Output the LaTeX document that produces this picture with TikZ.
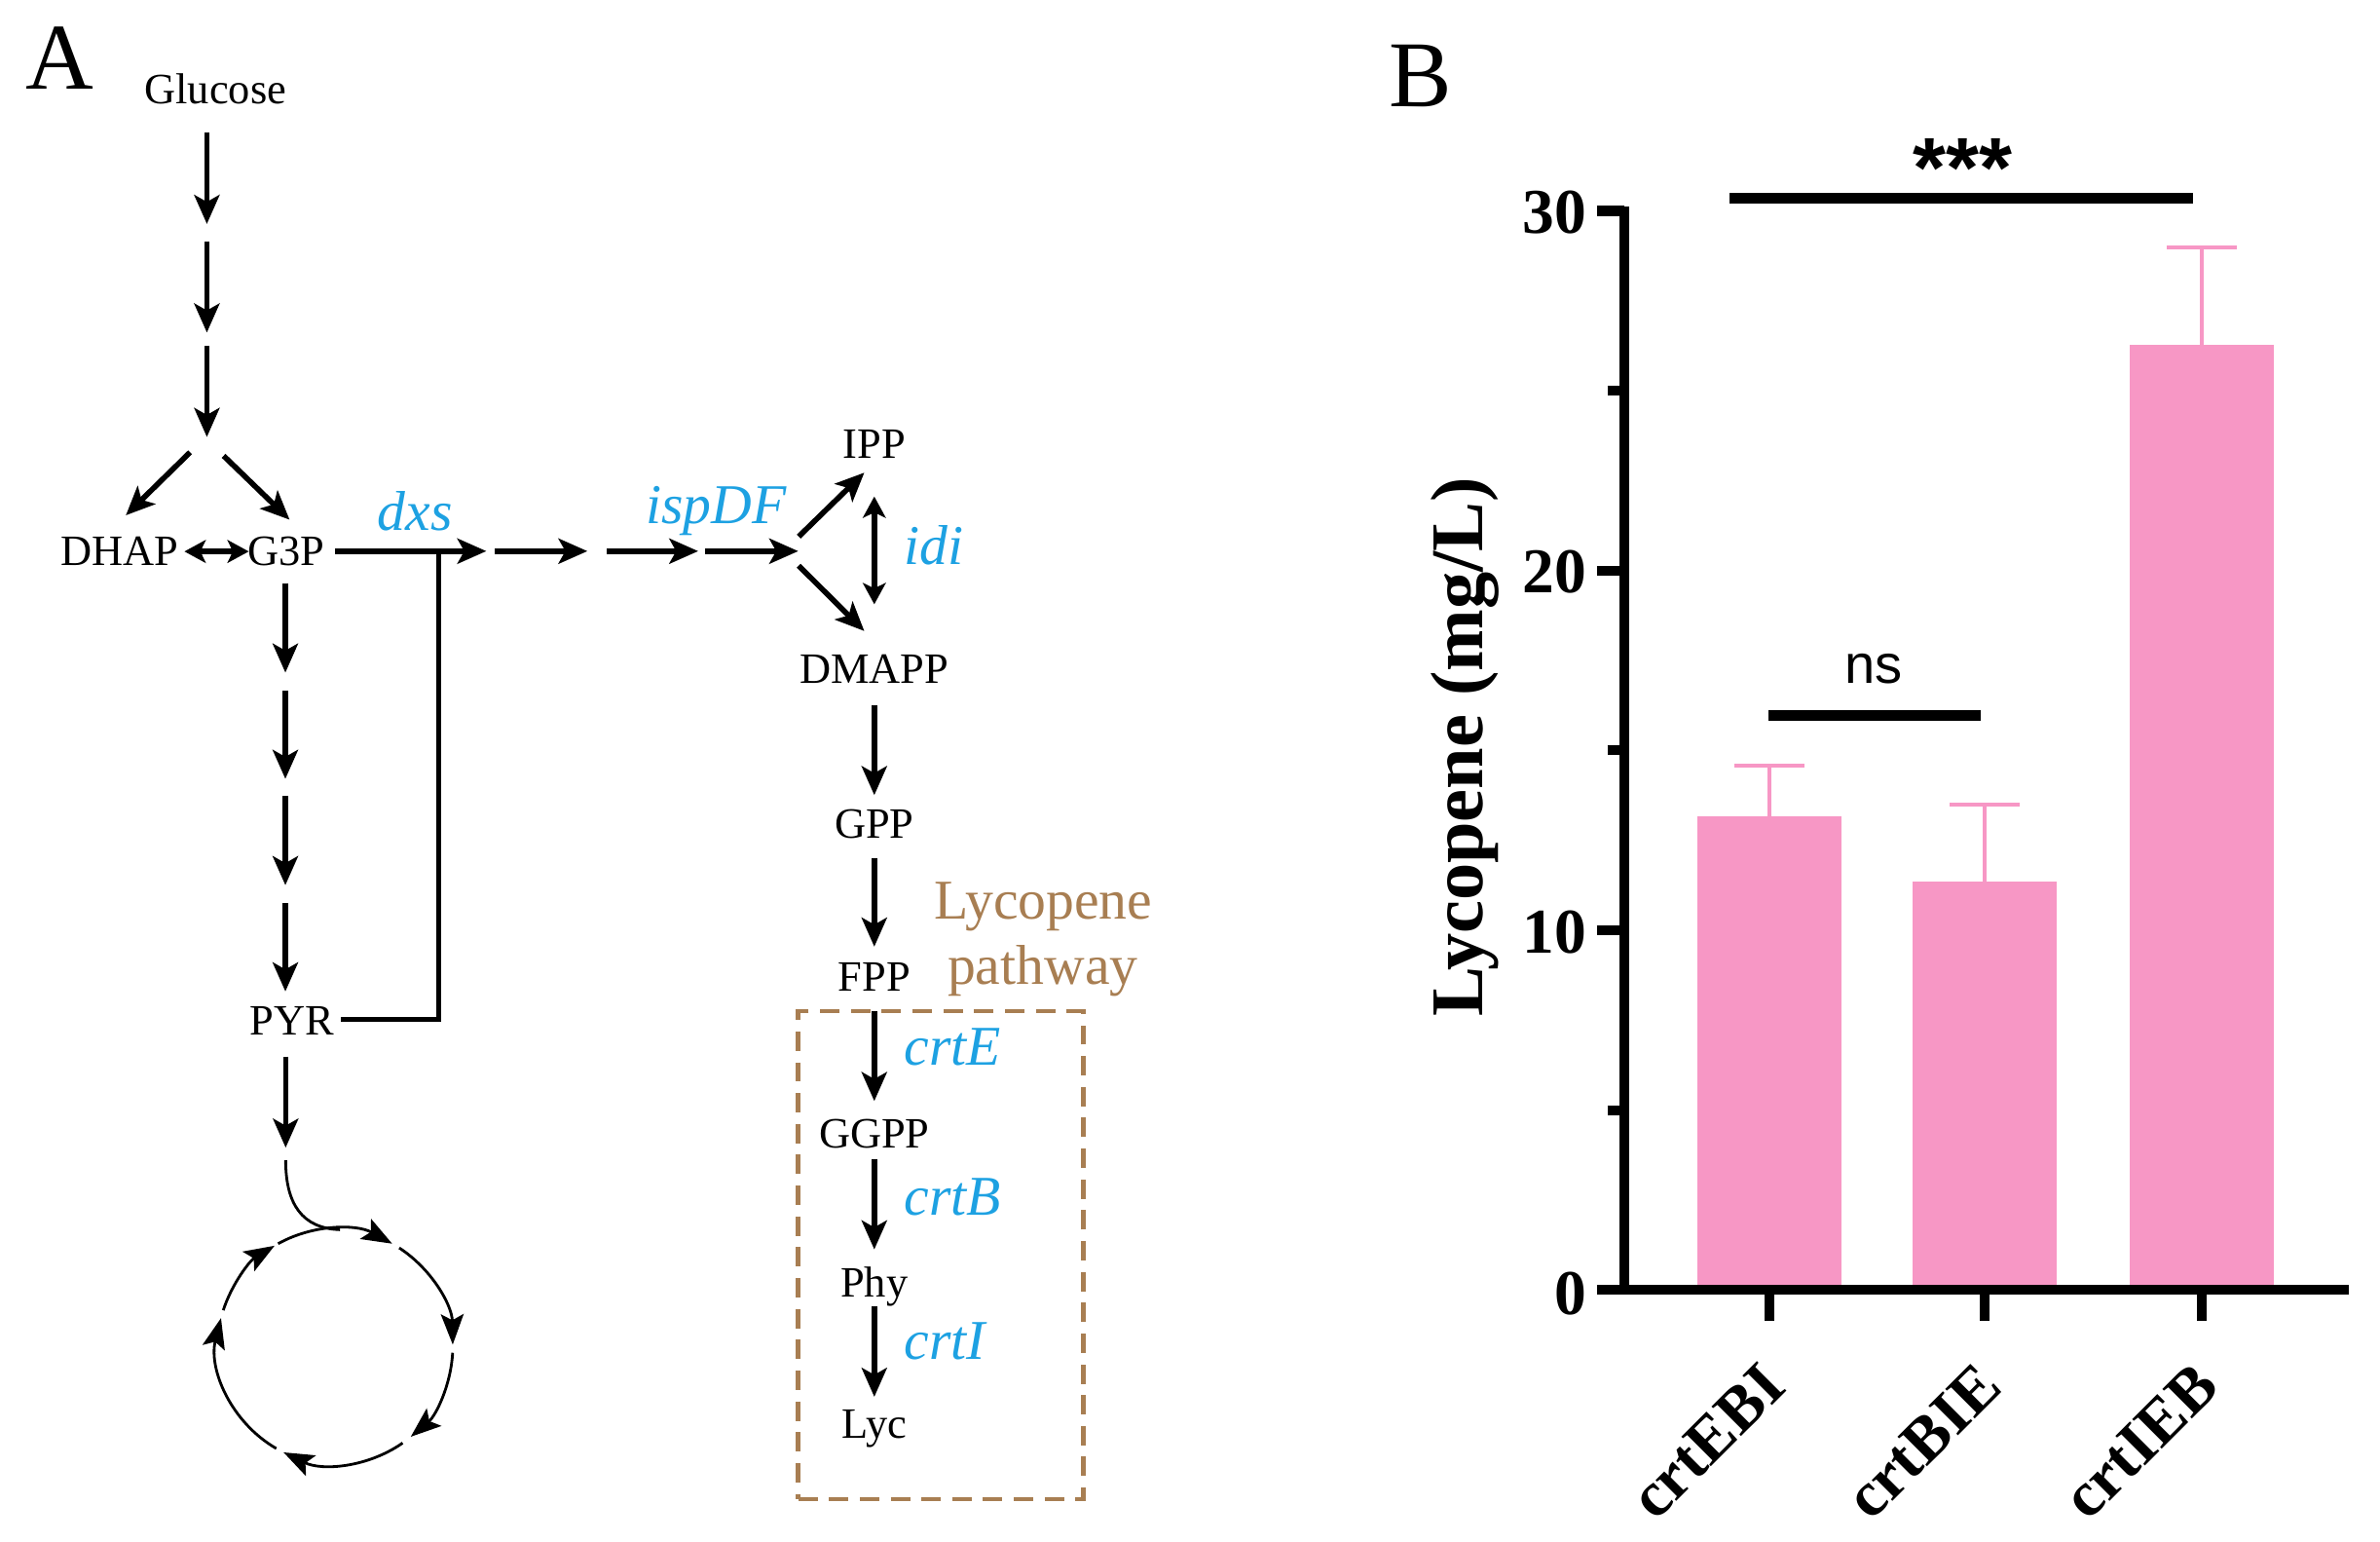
\documentclass[tikz,border=0pt]{standalone}
\usepackage{fontspec}
\setmainfont{Liberation Serif}
\newfontfamily\sansf{Liberation Sans}
\usetikzlibrary{arrows.meta}
\definecolor{geneblue}{RGB}{29,161,226}
\definecolor{lycbrown}{RGB}{168,126,82}
\definecolor{barpink}{RGB}{247,151,197}
\begin{document}
\begin{tikzpicture}[x=1pt,y=-1pt,
  met/.style={font=\fontsize{28.5}{30}\selectfont, anchor=base, inner sep=0pt},
  gene/.style={font=\fontsize{37}{40}\selectfont\itshape, text=geneblue, anchor=base west, inner sep=0pt},
  brownlab/.style={font=\fontsize{37}{40}\selectfont, text=lycbrown, anchor=base, inner sep=0pt},
  panel/.style={font=\fontsize{62}{62}\selectfont, anchor=base west, inner sep=0pt},
  flow/.style={line width=3.6pt, -{Stealth[length=19pt,width=16.5pt,inset=4.5pt]}},
  bflow/.style={line width=3.6pt, {Stealth[length=14pt,width=15pt,inset=3.5pt]}-{Stealth[length=14pt,width=15pt,inset=3.5pt]}},
  link/.style={line width=3.6pt},
  thinlink/.style={line width=1.8pt},
  cyc/.style={line width=1.8pt, -{Stealth[length=20pt,width=15pt,inset=4pt]}},
  lycbox/.style={draw=lycbrown, line width=2.9pt, dash pattern=on 12.8pt off 7.5pt, inner sep=0pt},
  axisline/.style={line width=6.5pt},
  errbar/.style={draw=barpink, line width=2.6pt},
  ticklab/.style={font=\bfseries\fontsize{42}{42}\selectfont, anchor=east, inner sep=0pt},
  catlab/.style={font=\bfseries\fontsize{42}{42}\selectfont, anchor=base east, rotate=45, inner sep=0pt}
]
\useasboundingbox (0,0) rectangle (1568,1015);

% ---------------- Panel A ----------------
\node[panel] (labA) at (16.5,58.7) {A};
\node[met] (glc) at (142,68.5) {Glucose};
\foreach \i/\a/\b in {1/87.4/147.5, 2/159/219, 3/227.7/287.8}{
  \coordinate (gs\i) at (136.3,\a);
  \coordinate (ge\i) at (136.3,\b);
  \draw[flow] (gs\i) -- (ge\i);
}
\coordinate (bl1) at (125.2,297.9); \coordinate (bl2) at (82.9,339.4);
\coordinate (br1) at (147.3,300.2); \coordinate (br2) at (190.8,342.3);
\draw[flow] (bl1) -- (bl2);
\draw[flow] (br1) -- (br2);

\node[met] (dhap) at (78.8,372.4) {DHAP};
\node[met] (g3p) at (188.4,372.4) {G3P};
\coordinate (dh1) at (121.5,363.2); \coordinate (dh2) at (163.9,363.2);
\draw[bflow] (dh1) -- (dh2);

% horizontal MEP line
\coordinate (dx1) at (221,363); \coordinate (dx2) at (320.4,363);
\draw[flow] (dx1) -- (dx2);
\node[gene] (dxs) at (248.6,349.4) {dxs};
\foreach \i/\a/\b in {1/326/387, 2/400/460, 3/464.8/525.9}{
  \coordinate (hs\i) at (\a,363);
  \coordinate (he\i) at (\b,363);
  \draw[flow] (hs\i) -- (he\i);
}
\node[gene] (ispdf) at (425.3,345) {ispDF};

% IPP / DMAPP
\node[met] (ipp) at (576,301.8) {IPP};
\node[met] (dmapp) at (576,450) {DMAPP};
\coordinate (ju) at (526.2,353.4); \coordinate (ippin) at (569.4,311.3);
\coordinate (jd) at (526.2,372.6); \coordinate (dmin) at (569.4,415.6);
\draw[flow] (ju) -- (ippin);
\draw[flow] (jd) -- (dmin);
\coordinate (idt) at (576,327); \coordinate (idb) at (576,398);
\draw[bflow] (idt) -- (idb);
\node[gene] (idi) at (595.6,371.5) {idi};

% main lycopene column
\node[met] (gpp) at (576,552) {GPP};
\node[met] (fpp) at (576,653) {FPP};
\node[met] (ggpp) at (576,756) {GGPP};
\node[met] (phy) at (576,854.1) {Phy};
\node[met] (lyc) at (576,947) {Lyc};
\foreach \i/\a/\b in {1/464.7/523.7, 2/565.4/623.5, 3/666.1/725.2, 4/763.7/822.9, 5/860.5/920}{
  \coordinate (vs\i) at (576,\a);
  \coordinate (ve\i) at (576,\b);
  \draw[flow] (vs\i) -- (ve\i);
}
\node[gene] (crtE) at (595.6,701.5) {crtE};
\node[gene] (crtB) at (595.6,800.5) {crtB};
\node[gene] (crtI) at (595.6,895.4) {crtI};

\node[brownlab] (lycA) at (687.3,605.3) {Lycopene};
\node[brownlab] (lycB) at (687,648.5) {pathway};
\node[lycbox, minimum width=187.8pt, minimum height=321.5pt, anchor=north west] (box) at (524.4,664.5) {};

% glycolysis branch
\node[met] (pyr) at (192.6,681.6) {PYR};
\foreach \i/\a/\b in {1/384/443, 2/455/513, 3/524/583, 4/595/653}{
  \coordinate (ps\i) at (188,\a);
  \coordinate (pe\i) at (188,\b);
  \draw[flow] (ps\i) -- (pe\i);
}
\coordinate (jn) at (289,363);
\coordinate (pyrout) at (224.8,671.3);
\draw[link] (pyrout) -| (jn);
\coordinate (ts1) at (188.2,695.9); \coordinate (ts2) at (188.2,755.9);
\draw[flow] (ts1) -- (ts2);

% TCA cycle
\coordinate (cs) at (188.2,764.2);
\coordinate (ct) at (224,809.9);
\draw[thinlink] (cs) .. controls (188.2,793) and (199,809) .. (ct);
\coordinate (tca) at (220.8,886.9);
\begin{scope}[shift={(tca)}, yscale=-1]
  \foreach \a/\b in {119/61, 57/1, -3/-50, -55/-116, -120/-194, 162/121}
    \draw[cyc] (\a:77.5) arc[start angle=\a, end angle=\b, radius=77.5];
\end{scope}

% ---------------- Panel B ----------------
\node[panel] (labB) at (915,70.4) {B};

% bars
\fill[barpink] (1118,849.6) rectangle (1213,537.5);
\fill[barpink] (1260,849.6) rectangle (1355,580.8);
\fill[barpink] (1403,849.6) rectangle (1498,226.8);
% error bars
\draw[errbar] (1165.5,537.5) -- (1165.5,504.3);
\draw[errbar] (1142.5,504.3) -- (1188.5,504.3);
\draw[errbar] (1307.5,580.8) -- (1307.5,530.2);
\draw[errbar] (1284.5,530.2) -- (1330.5,530.2);
\draw[errbar] (1450.5,226.8) -- (1450.5,162.7);
\draw[errbar] (1427.5,162.7) -- (1473.5,162.7);

% axes
\draw[axisline] (1052,849.6) -- (1547.5,849.6);
\draw[axisline] (1070,852.6) -- (1070,135.8);
\foreach \v in {10,20,30}
  \draw[axisline] (1052,{849.6-23.69*\v}) -- (1070,{849.6-23.69*\v});
\foreach \v in {5,15,25}
  \draw[axisline] (1059,{849.6-23.69*\v}) -- (1070,{849.6-23.69*\v});
\foreach \x in {1165.5,1307.5,1450.5}
  \draw[axisline] (\x,849.6) -- (\x,870);

\node[ticklab] (t0) at (1045.5,852) {0};
\node[ticklab] (t10) at (1045.5,613.7) {10};
\node[ticklab] (t20) at (1045.5,376.8) {20};
\node[ticklab] (t30) at (1045.5,140) {30};

\node[font=\bfseries\fontsize{49}{50}\selectfont, rotate=90, inner sep=0pt] (ylab) at (965.5,492) {Lycopene (mg/L)};

\node[catlab] (c1) at (1178.5,915) {crtEBI};
\node[catlab] (c2) at (1320.5,915) {crtBIE};
\node[catlab] (c3) at (1463.5,915) {crtIEB};

% significance
\draw[line width=7pt] (1139.5,130.5) -- (1445,130.5);
\node[font=\sansf\bfseries\fontsize{56}{56}\selectfont, anchor=base, inner sep=0pt] (sig3) at (1293,130) {***};
\draw[line width=7pt] (1165,471.3) -- (1305,471.3);
\node[font=\sansf\fontsize{36}{36}\selectfont, anchor=base, inner sep=0pt] (signs) at (1234.6,450) {ns};
\end{tikzpicture}
\end{document}
